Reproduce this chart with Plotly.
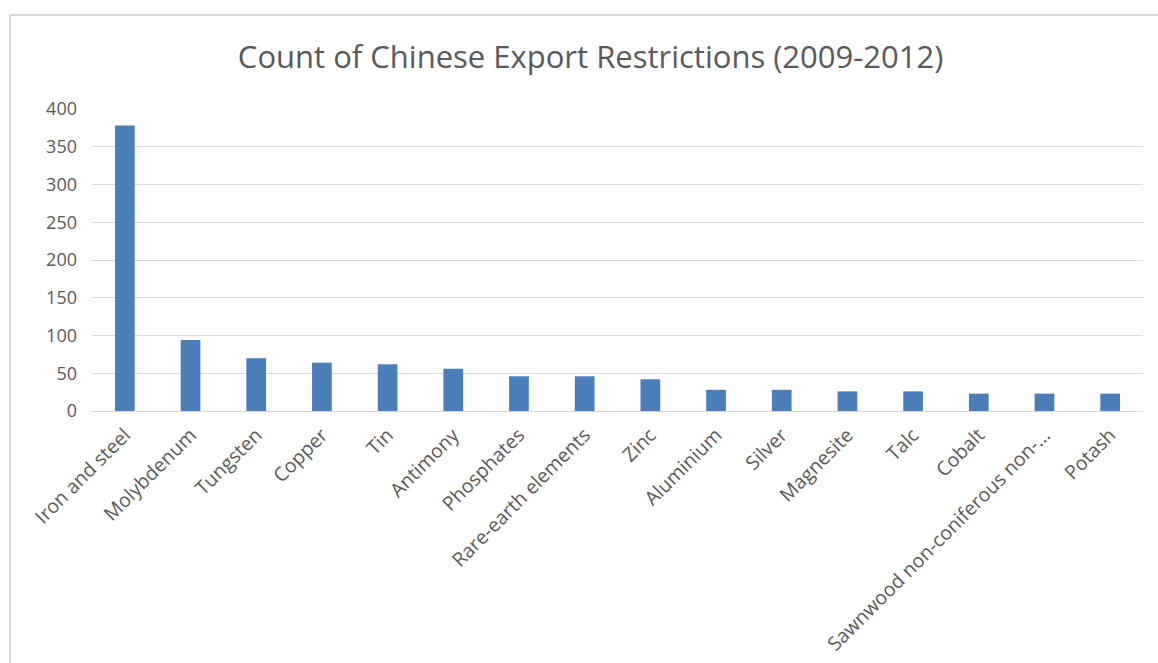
import plotly.graph_objects as go

categories = ["Iron and steel", "Molybdenum", "Tungsten", "Copper", "Tin", "Antimony",
              "Phosphates", "Rare-earth elements", "Zinc", "Aluminium", "Silver",
              "Magnesite", "Talc", "Cobalt", "Sawnwood non-coniferous non-...", "Potash"]
counts = [378, 94, 70, 64, 62, 56, 46, 46, 42, 28, 28, 26, 26, 23, 23, 23]
y_ticks = [0, 50, 100, 150, 200, 250, 300, 350, 400]

W, H = 1158, 663
L, R, T, B = 92, 15, 109, 252
pw, ph = W - L - R, H - T - B

def px_x(x):
    return (x - L) / pw

def px_y(y):
    return (H - B - y) / ph

fig = go.Figure(go.Bar(x=categories, y=counts, marker=dict(color="#4a7ebb", line=dict(width=0)),
                       width=0.3))

fig.update_layout(
    width=W, height=H,
    margin=dict(l=L, r=R, t=T, b=B, autoexpand=False),
    paper_bgcolor="white", plot_bgcolor="white",
    font=dict(family="Open Sans, sans-serif", color="#595959", size=16),
    title=dict(text="Count of Chinese Export Restrictions (2009-2012)", x=0.51, xanchor="center",
               y=1 - 57 / H, yanchor="middle", font=dict(size=31, color="#595959")),
    showlegend=False,
    xaxis=dict(tickangle=-45, showgrid=False, showline=True, linecolor="#d9d9d9", linewidth=1,
               ticks="", ticklabelstandoff=4, tickfont=dict(size=19.5, color="#595959")),
    yaxis=dict(range=[0, 400], tickvals=y_ticks, showgrid=True, gridcolor="#d9d9d9", gridwidth=1,
               zeroline=False, showline=False, ticks="", ticklabelstandoff=14,
               tickfont=dict(size=18, color="#595959")),
    shapes=[
        dict(type="line", xref="paper", yref="paper", x0=px_x(10), x1=px_x(W + 20),
             y0=px_y(15), y1=px_y(15), line=dict(color="#d9d9d9", width=2)),
        dict(type="line", xref="paper", yref="paper", x0=px_x(10), x1=px_x(10),
             y0=px_y(15), y1=px_y(H + 20), line=dict(color="#d9d9d9", width=2)),
    ],
)

fig.write_html("out.html")
